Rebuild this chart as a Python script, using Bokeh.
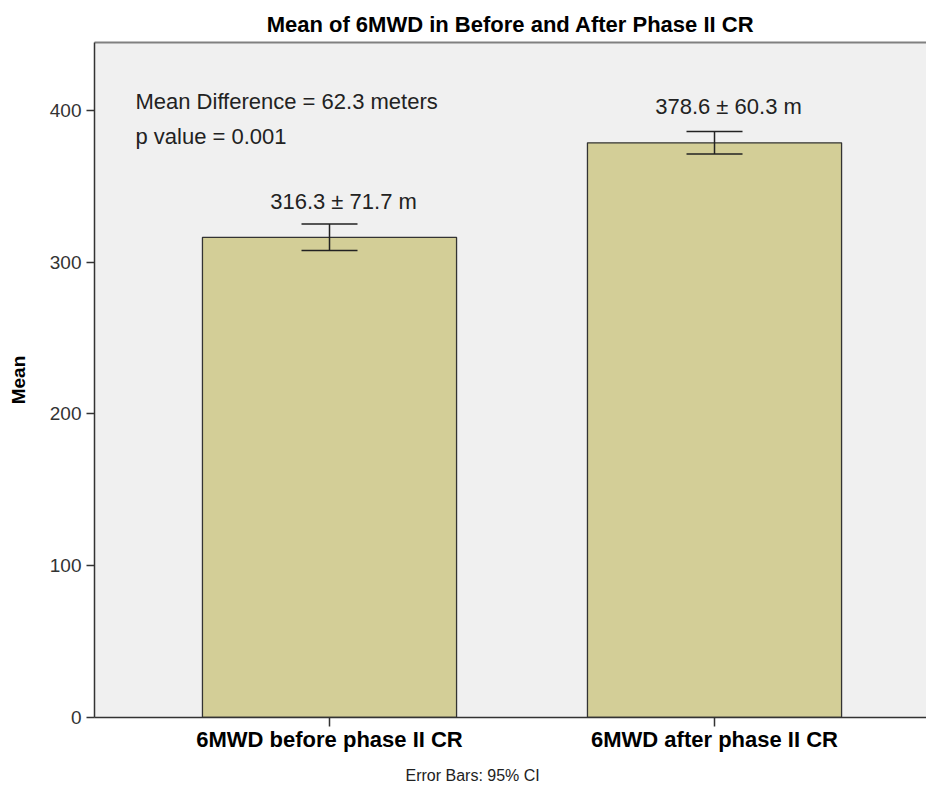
from bokeh.plotting import figure
from bokeh.models import (Range1d, FixedTicker, Whisker, TeeHead, ColumnDataSource,
                          Label, LabelSet, Title, LinearAxis)
from bokeh.core.properties import value
from bokeh.embed import file_html
from bokeh.resources import INLINE

# ---- data ----
categories = ["6MWD before phase II CR", "6MWD after phase II CR"]
means = [316.3, 378.6]
sds = [71.7, 60.3]
ci_lower = [307.6, 371.3]
ci_upper = [325.2, 386.0]
y_ticks = [0, 100, 200, 300, 400]
mean_difference = 62.3
p_value = "0.001"
footnote = "Error Bars: 95% CI"

FONT = "Liberation Sans"
xs = list(range(1, len(categories) + 1))
labels = [f"{m} \u00b1 {s} m" for m, s in zip(means, sds)]

src = ColumnDataSource(dict(x=xs, mean=means, lower=ci_lower, upper=ci_upper, label=labels))

p = figure(width=926, height=793,
           x_range=Range1d(0.3896, 2.5506), y_range=Range1d(0, 444.7),
           output_backend="svg", toolbar_location=None,
           min_border_left=94, min_border_right=0, min_border_top=42, min_border_bottom=75,
           title="Mean of 6MWD in Before and After Phase II CR")

xa = p.below[0]
ya = p.left[0]

p.background_fill_color = "#F0F0F0"
p.border_fill_color = "white"
p.outline_line_color = None
p.xgrid.visible = False
p.ygrid.visible = False

p.title.align = "center"
p.title.offset = 3
p.title.standoff = 12
p.title.text_font = FONT
p.title.text_font_size = "22px"
p.title.text_font_style = "bold"
p.title.text_color = "black"

# bars
p.vbar(x="x", top="mean", bottom=0, width=0.66, source=src,
       fill_color="#D3CE97", line_color="#333333", line_width=1.3)

# error bars
p.add_layout(Whisker(base="x", upper="upper", lower="lower", source=src, dimension="height",
                     line_color="#222222", line_width=1.5, level="overlay",
                     upper_head=TeeHead(size=56, line_color="#222222", line_width=1.5),
                     lower_head=TeeHead(size=56, line_color="#222222", line_width=1.5)))

# value labels
p.add_layout(LabelSet(x="x", y="mean", text="label", source=src, x_offset=14, y_offset=36,
                      text_align="center", text_baseline="middle", text_font=value(FONT),
                      text_font_size=value("22px"), text_color="#222222"))

# stats text
p.add_layout(Label(x=0.496, y=405.9, text=f"Mean Difference = {mean_difference} meters",
                   text_align="left", text_baseline="middle", text_font=FONT,
                   text_font_size="22px", text_color="#222222"))
p.add_layout(Label(x=0.496, y=382.9, text=f"p value = {p_value}",
                   text_align="left", text_baseline="middle", text_font=FONT,
                   text_font_size="22px", text_color="#222222"))

# y axis
ya.ticker = FixedTicker(ticks=y_ticks)
ya.major_tick_out = 8
ya.major_tick_in = 0
ya.minor_tick_line_color = None
ya.axis_line_color = "#333333"
ya.axis_line_width = 1.5
ya.major_tick_line_color = "#333333"
ya.major_tick_line_width = 1.5
ya.major_label_text_font = FONT
ya.major_label_text_font_size = "19px"
ya.major_label_text_color = "#333333"
ya.axis_label = "Mean"
ya.axis_label_text_font = FONT
ya.axis_label_text_font_size = "19px"
ya.axis_label_text_font_style = "bold"
ya.axis_label_text_color = "black"
ya.axis_label_standoff = 18

# x axis
xa.ticker = FixedTicker(ticks=xs)
xa.major_label_overrides = {x: c for x, c in zip(xs, categories)}
xa.major_tick_out = 9
xa.major_tick_in = 0
xa.major_label_standoff = 0
xa.minor_tick_line_color = None
xa.axis_line_color = "#333333"
xa.axis_line_width = 1.5
xa.major_tick_line_color = "#333333"
xa.major_tick_line_width = 1.5
xa.major_label_text_font = FONT
xa.major_label_text_font_size = "22px"
xa.major_label_text_font_style = "bold"
xa.major_label_text_color = "black"

# top frame line
top_axis = LinearAxis(ticker=FixedTicker(ticks=[]), axis_line_color="#808080", axis_line_width=2,
                      major_tick_line_color=None, minor_tick_line_color=None,
                      major_label_standoff=0, major_tick_out=0, major_tick_in=0)
p.add_layout(top_axis, "above")

# footnote
p.add_layout(Title(text=footnote, align="left", offset=311, standoff=20,
                   text_font=FONT, text_font_size="16px", text_font_style="normal",
                   text_color="#222222"), "below")

open("out.html", "w").write(file_html(p, INLINE))
